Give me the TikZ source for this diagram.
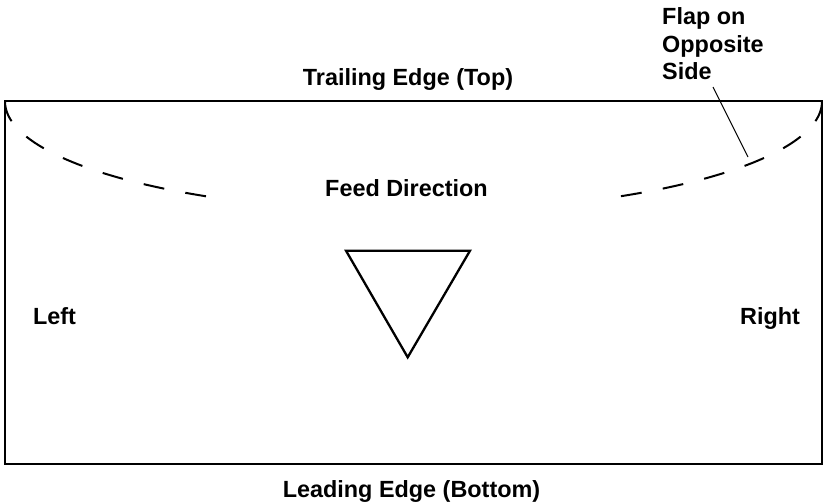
\documentclass[tikz,border=0pt]{standalone}
\usepackage{fontspec}
\setmainfont{Liberation Sans}
\begin{document}
\begin{tikzpicture}[x=1pt,y=-1pt,
  lbl/.style={font=\fontsize{23.4}{28}\selectfont\bfseries, inner sep=0pt, anchor=base},
  edge/.style={line width=2pt},
  flapline/.style={line width=2pt, dash pattern=on 21pt off 21.5pt},
  leader/.style={line width=1pt}]
\useasboundingbox (0,0) rectangle (823,503);
% envelope outline
\draw[edge] (5,101.5) rectangle (822,463.5);
% flap (dashed ellipse arcs)
\draw[flapline] plot[domain=180:120, samples=80, smooth] ({413+408*cos(\x)},{101.5+110*sin(\x)});
\draw[flapline] plot[domain=0:60, samples=80, smooth] ({413+409*cos(\x)},{101.5+110*sin(\x)});
% feed direction triangle
\coordinate (tl) at (346,250.7);
\coordinate (tr) at (470,250.7);
\coordinate (tb) at (407.7,357.3);
\draw[line width=2.3pt, line join=miter] (tl) -- (tr) -- (tb) -- cycle;
% labels
\node[lbl] (top) at (408,86) {Trailing Edge (Top)};
\node[lbl] (bottom) at (411.5,497) {Leading Edge (Bottom)};
\node[lbl] (feed) at (406.5,196) {Feed Direction};
\node[lbl] (left) at (54.5,324) {Left};
\node[lbl] (right) at (770,324) {Right};
\node[lbl, anchor=base west] (flap1) at (662,25) {Flap on};
\node[lbl, anchor=base west] (flap2) at (662,52.5) {Opposite};
\node[lbl, anchor=base west] (flap3) at (662,80) {Side};
\coordinate (ldrA) at (713,87);
\coordinate (ldrB) at (748,157);
\draw[leader] (ldrA) -- (ldrB);
\end{tikzpicture}
\end{document}
